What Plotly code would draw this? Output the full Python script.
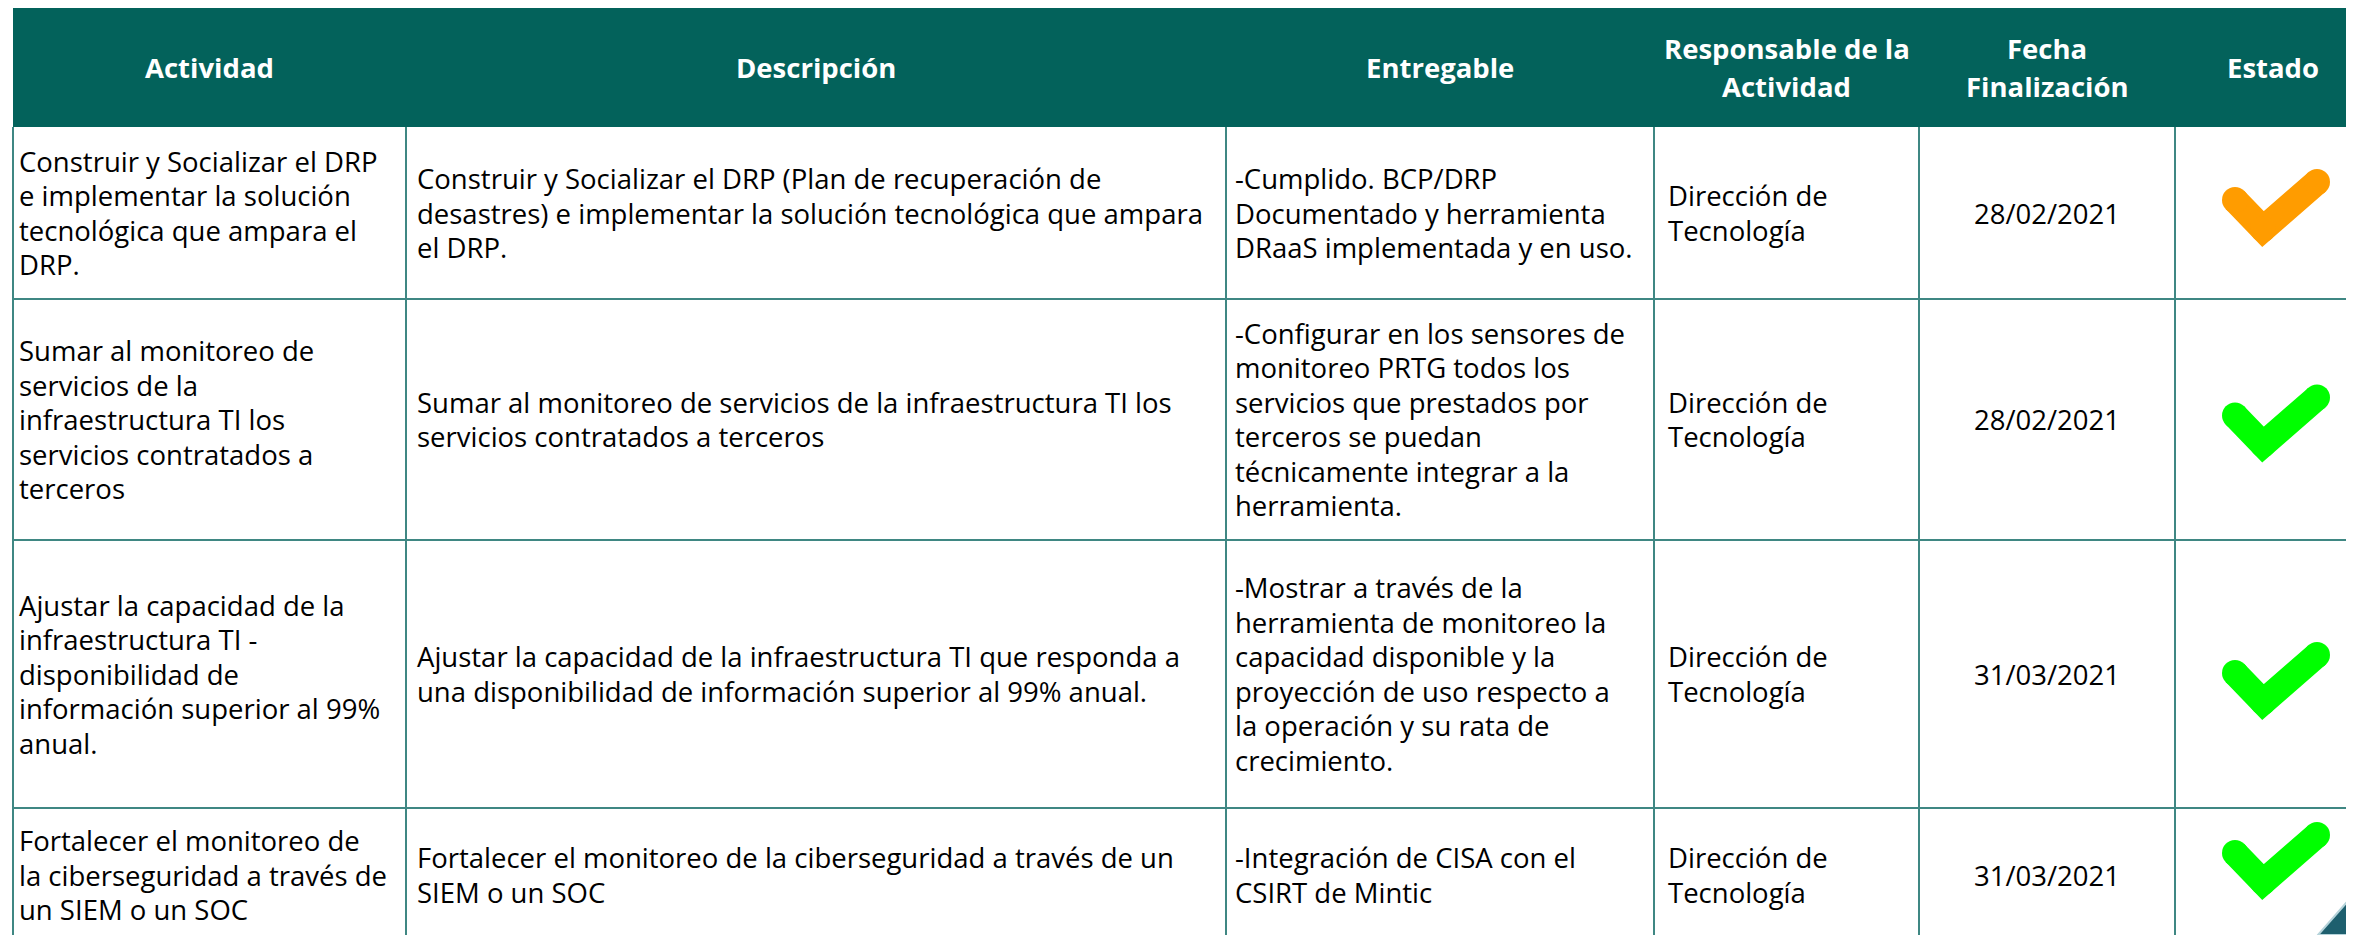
import plotly.graph_objects as go

# ---------------- data ----------------
headers = ["Actividad", "Descripción", "Entregable",
           "Responsable de la<br>Actividad", "Fecha<br>Finalización", "Estado"]

actividad = [
    "Construir y Socializar el DRP<br>e implementar la solución<br>tecnológica que ampara el<br>DRP.",
    "Sumar al monitoreo de<br>servicios de la<br>infraestructura TI los<br>servicios contratados a<br>terceros",
    "Ajustar la capacidad de la<br>infraestructura TI -<br>disponibilidad de<br>información superior al 99%<br>anual.",
    "Fortalecer el monitoreo de<br>la ciberseguridad a través de<br>un SIEM o un SOC",
]
descripcion = [
    "Construir y Socializar el DRP (Plan de recuperación de<br>desastres) e implementar la solución tecnológica que ampara<br>el DRP.",
    "Sumar al monitoreo de servicios de la infraestructura TI los<br>servicios contratados a terceros",
    "Ajustar la capacidad de la infraestructura TI que responda a<br>una disponibilidad de información superior al 99% anual.",
    "Fortalecer el monitoreo de la ciberseguridad a través de un<br>SIEM o un SOC",
]
entregable = [
    "-Cumplido. BCP/DRP<br>Documentado y herramienta<br>DRaaS implementada y en uso.",
    "-Configurar en los sensores de<br>monitoreo PRTG todos los<br>servicios que prestados por<br>terceros se puedan<br>técnicamente integrar a la<br>herramienta.",
    "-Mostrar a través de la<br>herramienta de monitoreo la<br>capacidad disponible y la<br>proyección de uso respecto a<br>la operación y su rata de<br>crecimiento.",
    "-Integración de CISA con el<br>CSIRT de Mintic",
]
responsable = ["Dirección de<br>Tecnología"] * 4
fecha = ["28/02/2021", "28/02/2021", "31/03/2021", "31/03/2021"]
estado = ["Parcial", "Cumplido", "Cumplido", "Cumplido"]

# ---------------- layout / style ----------------
W, H = 2354, 935
PAGE_MARGIN = 8  # default body margin of the html page
col_edges = [13, 406, 1226, 1654, 1919, 2175, 2380]
row_edges = [8, 127, 299, 540, 808, 942]
col_align = ["left", "left", "left", "left", "center", None]
col_pad = [4, 9, 7, 12, 0, 0]
HEADER_BG = "#03625B"
GRID = "#3F8783"
FONT = "Open Sans, sans-serif"
FS = 27.5
LINE = 34.5
HLINE = 38
state_color = {"Parcial": "#FF9C00", "Cumplido": "#00FF00"}
check_dy = [-6, 3, 6, -15]
check_pts = [(-41, -7), (-13, 22), (41, -25)]
CHECK_W = 26

fig = go.Figure()
shapes = []
annotations = []


def add_block(text, x, cy, xanchor, spacing, font):
    lines = text.split("<br>")
    n = len(lines)
    for k, ln in enumerate(lines):
        annotations.append(dict(x=x, y=cy + (k - (n - 1) / 2) * spacing, xref="x", yref="y",
                                text=ln, showarrow=False, xanchor=xanchor, yanchor="middle",
                                align=xanchor, font=font))


# header background
shapes.append(dict(type="rect", xref="x", yref="y", x0=col_edges[0], x1=col_edges[-1],
                   y0=row_edges[0], y1=row_edges[1], fillcolor=HEADER_BG, line=dict(width=0),
                   layer="below"))

# grid lines
for xe in col_edges[:-1]:
    shapes.append(dict(type="line", xref="x", yref="y", x0=xe, x1=xe,
                       y0=row_edges[1], y1=row_edges[-1], line=dict(color=GRID, width=2)))
for ye in row_edges[2:-1]:
    shapes.append(dict(type="line", xref="x", yref="y", x0=col_edges[0], x1=col_edges[-1],
                       y0=ye, y1=ye, line=dict(color=GRID, width=2)))

# corner decoration
shapes.append(dict(type="path", xref="x", yref="y",
                   path="M 2318 935 L 2354 894 L 2354 935 Z",
                   fillcolor="#1E5F6E", line=dict(color="#B5D3DA", width=2)))

# header text
hfont = dict(family=FONT, size=FS, color="white", weight="bold")
for j, h in enumerate(headers):
    cx = (col_edges[j] + col_edges[j + 1]) / 2
    if j == 5:
        cx = 2273
    add_block(h, cx, (row_edges[0] + row_edges[1]) / 2, "center", HLINE, hfont)

bfont = dict(family=FONT, size=FS, color="black")
columns = [actividad, descripcion, entregable, responsable, fecha]
for i in range(len(actividad)):
    y0, y1 = row_edges[i + 1], row_edges[i + 2]
    cy = (y0 + y1) / 2
    for j, col in enumerate(columns):
        if col_align[j] == "left":
            x = col_edges[j] + col_pad[j]
            xa = "left"
        else:
            x = (col_edges[j] + col_edges[j + 1]) / 2
            xa = "center"
        add_block(col[i], x, cy, xa, LINE, bfont)
    # check mark
    ccx = 2276
    ccy = cy + check_dy[i]
    xs = [ccx + p[0] for p in check_pts]
    ys = [ccy + p[1] for p in check_pts]
    c = state_color[estado[i]]
    fig.add_trace(go.Scatter(x=xs, y=ys, mode="lines+markers",
                             line=dict(color=c, width=CHECK_W),
                             marker=dict(color=c, size=CHECK_W, line=dict(width=0)),
                             hoverinfo="skip", showlegend=False))

fig.update_layout(
    width=W - PAGE_MARGIN, height=H - PAGE_MARGIN, margin=dict(l=0, r=0, t=0, b=0),
    paper_bgcolor="white", plot_bgcolor="white",
    xaxis=dict(range=[PAGE_MARGIN, W], visible=False, fixedrange=True),
    yaxis=dict(range=[H, PAGE_MARGIN], visible=False, fixedrange=True),
    shapes=shapes, annotations=annotations, showlegend=False,
)
fig.write_html("out.html")
